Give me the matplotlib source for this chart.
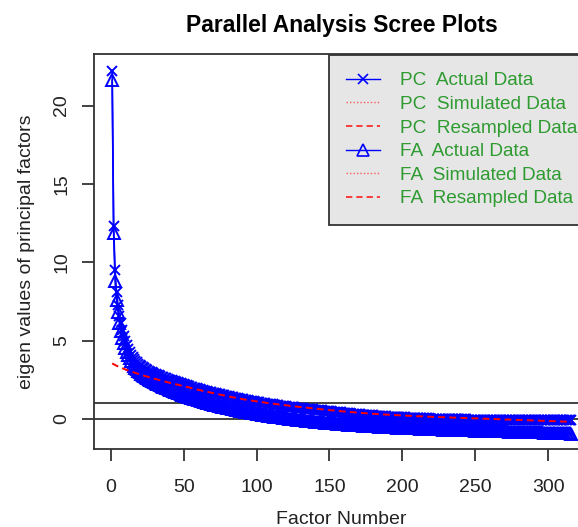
import matplotlib
matplotlib.use("Agg")
import matplotlib.pyplot as plt
from matplotlib.lines import Line2D
import numpy as np

plt.rcParams['font.family'] = ['Liberation Sans', 'DejaVu Sans']

# ---------------- data ----------------
pc_actual = [
    22.2, 12.3, 9.5, 8.1, 7.3, 6.6, 6.1, 5.7, 5.3, 5.0,
    4.7, 4.5, 4.3, 4.1, 3.95, 3.82, 3.71, 3.61, 3.52, 3.44,
    3.37, 3.30, 3.24, 3.18, 3.13, 3.08, 3.03, 2.98, 2.94, 2.90,
    2.86, 2.82, 2.78, 2.74, 2.70, 2.66, 2.62, 2.59, 2.55, 2.52,
    2.49, 2.46, 2.43, 2.40, 2.37, 2.34, 2.31, 2.28, 2.25, 2.22,
    2.19, 2.16, 2.13, 2.10, 2.07, 2.04, 2.01, 1.98, 1.95, 1.93,
    1.90, 1.87, 1.85, 1.82, 1.80, 1.77, 1.75, 1.72, 1.70, 1.68,
    1.65, 1.63, 1.61, 1.59, 1.57, 1.55, 1.53, 1.51, 1.49, 1.47,
    1.45, 1.43, 1.41, 1.39, 1.37, 1.35, 1.33, 1.31, 1.29, 1.27,
    1.25, 1.23, 1.22, 1.20, 1.18, 1.16, 1.15, 1.13, 1.11, 1.10,
    1.08, 1.06, 1.05, 1.03, 1.02, 1.00, 0.99, 0.97, 0.96, 0.94,
    0.93, 0.92, 0.90, 0.89, 0.88, 0.86, 0.85, 0.84, 0.83, 0.81,
    0.80, 0.79, 0.78, 0.77, 0.76, 0.74, 0.73, 0.72, 0.71, 0.70,
    0.69, 0.68, 0.67, 0.66, 0.65, 0.64, 0.63, 0.62, 0.61, 0.60,
    0.59, 0.58, 0.57, 0.56, 0.55, 0.54, 0.53, 0.52, 0.51, 0.50,
    0.49, 0.48, 0.47, 0.46, 0.45, 0.44, 0.43, 0.42, 0.41, 0.40,
    0.39, 0.38, 0.37, 0.36, 0.35, 0.34, 0.34, 0.33, 0.32, 0.31,
    0.30, 0.29, 0.29, 0.28, 0.27, 0.26, 0.25, 0.25, 0.24, 0.23,
    0.22, 0.22, 0.21, 0.20, 0.20, 0.19, 0.18, 0.18, 0.17, 0.16,
    0.16, 0.15, 0.15, 0.14, 0.13, 0.13, 0.12, 0.12, 0.11, 0.11,
    0.10, 0.10, 0.09, 0.09, 0.08, 0.08, 0.08, 0.07, 0.07, 0.06,
    0.06, 0.06, 0.05, 0.05, 0.05, 0.04, 0.04, 0.04, 0.03, 0.03,
    0.03, 0.02, 0.02, 0.02, 0.02, 0.01, 0.01, 0.01, 0.01, 0.00,
    0.00, 0.00, 0.00, -0.01, -0.01, -0.01, -0.01, -0.01, -0.02, -0.02,
    -0.02, -0.02, -0.02, -0.02, -0.03, -0.03, -0.03, -0.03, -0.03, -0.03,
    -0.03, -0.03, -0.03, -0.04, -0.04, -0.04, -0.04, -0.04, -0.04, -0.04,
    -0.04, -0.04, -0.04, -0.04, -0.05, -0.05, -0.05, -0.05, -0.05, -0.05,
    -0.05, -0.05, -0.05, -0.05, -0.05, -0.05, -0.05, -0.06, -0.06, -0.06,
    -0.06, -0.06, -0.06, -0.06, -0.06, -0.06, -0.06, -0.06, -0.06, -0.06,
    -0.06, -0.06, -0.06, -0.06, -0.06, -0.07, -0.07, -0.07, -0.07, -0.07,
    -0.07, -0.07, -0.07, -0.07, -0.07, -0.07, -0.07, -0.07, -0.07, -0.07,
    -0.07, -0.08, -0.08, -0.08, -0.08, -0.09,
]

fa_actual = [
    21.6, 11.9, 8.8, 7.6, 6.8, 6.1, 5.6, 5.2, 4.85, 4.55,
    4.30, 4.08, 3.88, 3.70, 3.54, 3.40, 3.28, 3.17, 3.07, 2.98,
    2.90, 2.82, 2.75, 2.68, 2.62, 2.56, 2.50, 2.45, 2.40, 2.35,
    2.30, 2.25, 2.21, 2.16, 2.12, 2.07, 2.03, 1.99, 1.95, 1.91,
    1.87, 1.83, 1.79, 1.75, 1.71, 1.67, 1.63, 1.59, 1.55, 1.52,
    1.49, 1.46, 1.43, 1.40, 1.37, 1.34, 1.31, 1.28, 1.25, 1.22,
    1.19, 1.16, 1.13, 1.10, 1.08, 1.05, 1.02, 1.00, 0.97, 0.95,
    0.92, 0.90, 0.87, 0.85, 0.83, 0.80, 0.78, 0.76, 0.74, 0.72,
    0.70, 0.68, 0.66, 0.64, 0.62, 0.60, 0.58, 0.56, 0.54, 0.52,
    0.50, 0.48, 0.47, 0.45, 0.43, 0.41, 0.40, 0.38, 0.36, 0.35,
    0.33, 0.31, 0.30, 0.28, 0.27, 0.25, 0.24, 0.22, 0.21, 0.19,
    0.18, 0.16, 0.15, 0.14, 0.12, 0.11, 0.10, 0.08, 0.07, 0.06,
    0.04, 0.03, 0.02, 0.01, 0.00, -0.01, -0.02, -0.04, -0.05, -0.06,
    -0.07, -0.08, -0.09, -0.10, -0.11, -0.12, -0.13, -0.14, -0.15, -0.16,
    -0.17, -0.18, -0.19, -0.20, -0.21, -0.22, -0.23, -0.23, -0.24, -0.25,
    -0.26, -0.27, -0.28, -0.28, -0.29, -0.30, -0.31, -0.31, -0.32, -0.33,
    -0.34, -0.34, -0.35, -0.36, -0.36, -0.37, -0.38, -0.38, -0.39, -0.40,
    -0.40, -0.41, -0.42, -0.42, -0.43, -0.43, -0.44, -0.45, -0.45, -0.46,
    -0.46, -0.47, -0.47, -0.48, -0.48, -0.49, -0.49, -0.50, -0.50, -0.51,
    -0.51, -0.52, -0.52, -0.53, -0.53, -0.54, -0.54, -0.55, -0.55, -0.56,
    -0.56, -0.57, -0.57, -0.57, -0.58, -0.58, -0.59, -0.59, -0.60, -0.60,
    -0.60, -0.61, -0.61, -0.62, -0.62, -0.62, -0.63, -0.63, -0.63, -0.64,
    -0.64, -0.65, -0.65, -0.65, -0.66, -0.66, -0.66, -0.67, -0.67, -0.67,
    -0.68, -0.68, -0.68, -0.69, -0.69, -0.69, -0.70, -0.70, -0.70, -0.71,
    -0.71, -0.71, -0.72, -0.72, -0.72, -0.72, -0.73, -0.73, -0.73, -0.74,
    -0.74, -0.74, -0.74, -0.75, -0.75, -0.75, -0.76, -0.76, -0.76, -0.76,
    -0.77, -0.77, -0.77, -0.77, -0.78, -0.78, -0.78, -0.78, -0.79, -0.79,
    -0.79, -0.79, -0.80, -0.80, -0.80, -0.80, -0.81, -0.81, -0.81, -0.81,
    -0.82, -0.82, -0.82, -0.82, -0.83, -0.83, -0.83, -0.83, -0.84, -0.84,
    -0.84, -0.84, -0.85, -0.85, -0.85, -0.85, -0.86, -0.86, -0.86, -0.86,
    -0.87, -0.87, -0.87, -0.87, -0.88, -0.88, -0.88, -0.88, -0.89, -0.89,
    -0.89, -0.90, -0.90, -0.91, -0.92, -0.94,
]

resampled = [
    3.55, 3.50, 3.45, 3.40, 3.36, 3.32, 3.28, 3.24, 3.20, 3.17,
    3.13, 3.10, 3.06, 3.03, 3.00, 2.97, 2.94, 2.91, 2.88, 2.85,
    2.82, 2.79, 2.76, 2.73, 2.71, 2.68, 2.65, 2.63, 2.60, 2.57,
    2.55, 2.52, 2.50, 2.47, 2.45, 2.42, 2.40, 2.37, 2.35, 2.33,
    2.30, 2.28, 2.26, 2.23, 2.21, 2.19, 2.17, 2.14, 2.12, 2.10,
    2.08, 2.05, 2.03, 2.01, 1.98, 1.96, 1.94, 1.92, 1.89, 1.87,
    1.85, 1.83, 1.80, 1.78, 1.76, 1.74, 1.72, 1.70, 1.68, 1.66,
    1.64, 1.62, 1.60, 1.58, 1.56, 1.54, 1.52, 1.50, 1.48, 1.46,
    1.44, 1.42, 1.40, 1.38, 1.37, 1.35, 1.33, 1.31, 1.30, 1.28,
    1.26, 1.25, 1.23, 1.22, 1.20, 1.19, 1.17, 1.16, 1.14, 1.13,
    1.11, 1.10, 1.09, 1.07, 1.06, 1.05, 1.03, 1.02, 1.01, 1.00,
    0.98, 0.97, 0.96, 0.95, 0.93, 0.92, 0.91, 0.90, 0.89, 0.88,
    0.87, 0.86, 0.84, 0.83, 0.82, 0.81, 0.80, 0.79, 0.78, 0.77,
    0.76, 0.75, 0.74, 0.73, 0.72, 0.71, 0.70, 0.69, 0.68, 0.67,
    0.66, 0.65, 0.64, 0.63, 0.62, 0.61, 0.60, 0.59, 0.58, 0.57,
    0.56, 0.55, 0.55, 0.54, 0.53, 0.52, 0.51, 0.50, 0.49, 0.48,
    0.48, 0.47, 0.46, 0.45, 0.44, 0.44, 0.43, 0.42, 0.41, 0.41,
    0.40, 0.39, 0.38, 0.38, 0.37, 0.36, 0.36, 0.35, 0.34, 0.34,
    0.33, 0.32, 0.32, 0.31, 0.31, 0.30, 0.29, 0.29, 0.28, 0.28,
    0.27, 0.27, 0.26, 0.26, 0.25, 0.25, 0.24, 0.24, 0.23, 0.23,
    0.22, 0.22, 0.21, 0.21, 0.21, 0.20, 0.20, 0.19, 0.19, 0.18,
    0.18, 0.18, 0.17, 0.17, 0.16, 0.16, 0.16, 0.15, 0.15, 0.14,
    0.14, 0.14, 0.13, 0.13, 0.13, 0.12, 0.12, 0.12, 0.11, 0.11,
    0.11, 0.10, 0.10, 0.10, 0.09, 0.09, 0.09, 0.08, 0.08, 0.08,
    0.07, 0.07, 0.07, 0.06, 0.06, 0.06, 0.05, 0.05, 0.05, 0.04,
    0.04, 0.04, 0.03, 0.03, 0.03, 0.02, 0.02, 0.02, 0.01, 0.01,
    0.01, 0.00, 0.00, 0.00, -0.01, -0.01, -0.01, -0.02, -0.02, -0.02,
    -0.03, -0.03, -0.03, -0.04, -0.04, -0.04, -0.05, -0.05, -0.05, -0.06,
    -0.06, -0.06, -0.07, -0.07, -0.07, -0.08, -0.08, -0.08, -0.09, -0.09,
    -0.09, -0.10, -0.10, -0.10, -0.11, -0.11, -0.11, -0.12, -0.12, -0.12,
    -0.13, -0.13, -0.13, -0.14, -0.14, -0.14, -0.15, -0.15, -0.15, -0.16,
    -0.16, -0.16, -0.17, -0.17, -0.17, -0.18,
]

ref_lines = [1, 0]
x_ticks = [0, 50, 100, 150, 200, 250, 300]
y_ticks = [0, 5, 10, 15, 20]
legend_labels = ["PC  Actual Data", "PC  Simulated Data", "PC  Resampled Data",
                 "FA  Actual Data", "FA  Simulated Data", "FA  Resampled Data"]

# ---------------- figure ----------------
W, H = 578, 527
fig = plt.figure(figsize=(W / 100, H / 100), dpi=100)
left_px, right_px, top_px, bottom_px = 93.5, 590, 54.3, 449.3
ax = fig.add_axes([left_px / W, 1 - bottom_px / H,
                   (right_px - left_px) / W, (bottom_px - top_px) / H])

blue = "#0000FF"
red = "#FF0000"
dark = "#333333"
green = "#2E9B30"

x_pc = np.arange(1, len(pc_actual) + 1)
x_fa = np.arange(1, len(fa_actual) + 1)
x_rs = np.arange(1, len(resampled) + 1)

ax.plot(x_pc, pc_actual, color=blue, lw=1.2, marker='x', ms=7.5, mew=1.4, zorder=3)
ax.plot(x_fa, fa_actual, color=blue, lw=1.2, marker='^', ms=8.5, mew=1.4,
        mfc='none', zorder=3)
ax.plot(x_rs, resampled, color=red, lw=1.4, ls=(0, (3.5, 2.2)), zorder=4)

for v in ref_lines:
    ax.axhline(v, color=dark, lw=1.3, zorder=2)

ax.set_xlim(-11.8, 328.7)
ax.set_ylim(-1.93, 23.27)
ax.set_xticks(x_ticks)
ax.set_yticks(y_ticks)

for s in ax.spines.values():
    s.set_color(dark)
    s.set_linewidth(1.3)

ax.tick_params(axis='both', direction='out', length=8.7, width=1.3, color=dark,
               labelsize=14, labelcolor='#222222')
ax.tick_params(axis='x', pad=13)
ax.tick_params(axis='y', pad=8)
for lab in ax.get_yticklabels():
    lab.set_rotation(90)
    lab.set_va('center')

ax.set_xlabel("Factor Number", fontsize=14, color='#222222', labelpad=10.5)
ax.set_ylabel("eigen values of principal factors", fontsize=14, color='#222222',
              labelpad=13)
ax.set_title("Parallel Analysis Scree Plots", fontsize=16.5, fontweight='bold',
             pad=16)

handles = [
    Line2D([], [], color=blue, lw=1.0, marker='x', ms=7, mew=1.2),
    Line2D([], [], color=red, lw=1.0, ls=(0, (1, 1.5)), alpha=0.6),
    Line2D([], [], color=red, lw=1.3, ls=(0, (3.5, 2.2)), alpha=0.8),
    Line2D([], [], color=blue, lw=1.0, marker='^', ms=8, mew=1.2, mfc='none'),
    Line2D([], [], color=red, lw=1.0, ls=(0, (1, 1.5)), alpha=0.6),
    Line2D([], [], color=red, lw=1.3, ls=(0, (3.5, 2.2)), alpha=0.8),
]
leg = ax.legend(handles, legend_labels, loc='upper left',
                bbox_to_anchor=(329 / W, 1 - 55 / H), bbox_transform=fig.transFigure,
                fontsize=13.7, labelcolor=green, frameon=True, fancybox=False,
                facecolor='#E6E6E6', edgecolor=dark, framealpha=1,
                handlelength=1.8, handletextpad=1.05, labelspacing=0.33,
                borderpad=0.9, borderaxespad=0, numpoints=1)
leg.get_frame().set_linewidth(1.3)
leg.set_zorder(5)

fig.savefig("out.png", dpi=100)
